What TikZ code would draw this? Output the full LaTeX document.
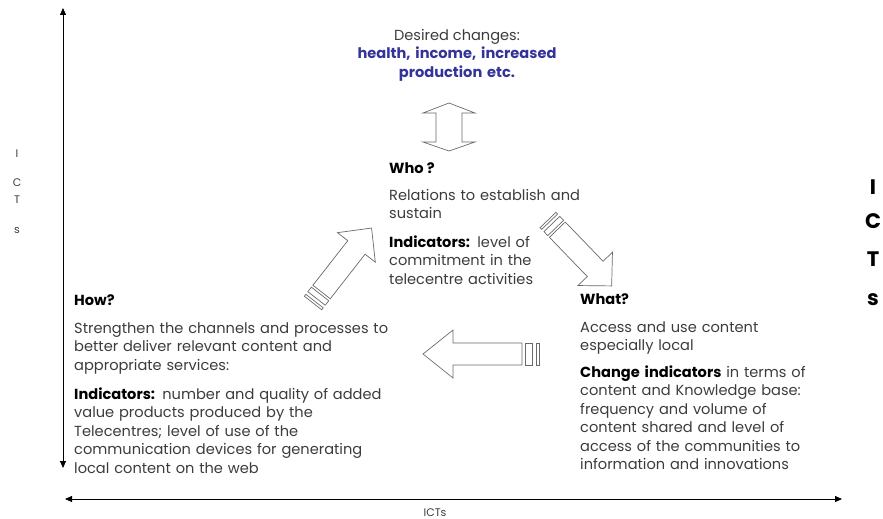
\documentclass[tikz,border=0pt]{standalone}
\usepackage{fontspec}
\setmainfont{Poppins}
\usepackage{xcolor}
\usetikzlibrary{arrows.meta}
\definecolor{ink}{HTML}{3C3C3C}
\definecolor{goal}{HTML}{333399}
\definecolor{outline}{HTML}{6A6A6A}

\begin{document}
\begin{tikzpicture}[
  x=1pt, y=-1pt,
  font=\fontsize{14.6}{18.5}\selectfont,
  every node/.style={text=ink, inner sep=0pt},
  axis/.style={{Triangle[length=7pt,width=6pt]}-{Triangle[length=7pt,width=6pt]},
               draw=black, line width=0.8pt},
  block/.style={draw=outline, fill=white, line width=0.7pt, line join=miter},
  para/.style={anchor=base west, align=left, text width=340pt},
  head/.style={anchor=base west, font=\fontsize{14.6}{18.5}\selectfont\bfseries, text=black},
  tick/.style={anchor=base, font=\fontsize{11}{11}\selectfont},
  bigtick/.style={anchor=base, font=\fontsize{21}{21}\selectfont\bfseries, text=black},
]
\useasboundingbox (0,0) rectangle (883,519);

% Axes: ICTs on both sides of the picture.
\coordinate (ytop) at (63,8);
\coordinate (ybot) at (63,468);
\coordinate (xleft) at (65,499);
\coordinate (xright) at (842,499);
\draw[axis] (ybot) -- (ytop);
\draw[axis] (xleft) -- (xright);
\node[tick] (xlabel) at (435,516) {ICTs};
\foreach \ch/\y in {I/157, C/186, T/203, s/233} {
  \node[tick] (left\ch) at (17,\y) {\ch};
}
\foreach \ch/\y in {I/194, C/228, T/266, s/305} {
  \node[bigtick] (right\ch) at (873,\y) {\ch};
}

% Desired changes at the top.
\node[anchor=base] (goalhead) at (457,41) {Desired changes:};
\node[anchor=base, align=center, text width=260pt, text=goal,
      font=\fontsize{14.6}{19}\selectfont\bfseries]
  (goalitems) at (457,59) {health, income, increased\\production etc.};

% Double arrow between the goal and the cycle.
\draw[block] (449,103) -- (475,113) -- (462,113) -- (462,142) -- (475,142)
  -- (449,151) -- (423,142) -- (436,142) -- (436,113) -- (423,113) -- cycle;

% Who ?
\node[head] (whohead) at (389,173) {Who ?};
\node[para] (whotext) at (389,200) {Relations to establish and\\sustain};
\node[para] (whoind) at (389,247)
  {{\bfseries\color{black}Indicators:} level of\\commitment in the\\telecentre activities};

% How?
\node[head] (howhead) at (74,305) {How?};
\node[para] (howtext) at (74,333)
  {Strengthen the channels and processes to\\better deliver relevant content and\\appropriate services:};
\node[para] (howind) at (74,399)
  {{\bfseries\color{black}Indicators:} number and quality of added\\value products produced by the\\Telecentres; level of use of the\\communication devices for generating\\local content on the web};

% What?
\node[head] (whathead) at (580,304) {What?};
\node[para] (whattext) at (580,332) {Access and use content\\especially local};
\node[para] (whatind) at (580,377)
  {{\bfseries\color{black}Change indicators} in terms of\\content and Knowledge base:\\frequency and volume of\\content shared and level of\\access of the communities to\\information and innovations};

% Striped block arrows of the cycle: tail point, angle, length and width scale.
\foreach \x/\y/\a/\sx/\sy in {539/354/180/1/1, 313/303/52/0.82/1, 548/220/-46/0.79/1} {
  \begin{scope}[shift={(\x,\y)}, rotate=\a, xscale=\sx, yscale=\sy]
    \draw[block] (0,-11) rectangle (3,11);
    \draw[block] (7,-11) rectangle (14,11);
    \draw[block] (17,-11) -- (86,-11) -- (86,-24) -- (116,0) -- (86,24)
      -- (86,11) -- (17,11) -- cycle;
  \end{scope}
}
\end{tikzpicture}
\end{document}
